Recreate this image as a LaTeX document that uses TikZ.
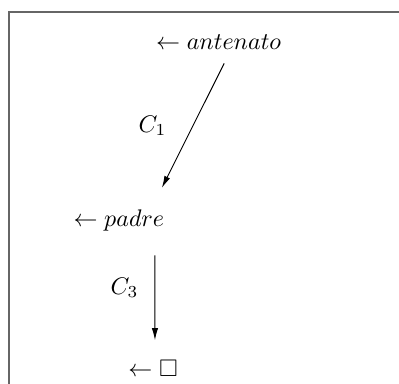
\documentclass[tikz,border=0pt]{standalone}
\usepackage{amssymb}
\usetikzlibrary{positioning, arrows.meta}

\begin{document}
\begin{tikzpicture}[
        every node/.style={font=\normalsize},
        goal/.style={anchor=base},
        frame/.style={draw=black!60, line width=0.8pt},
        arrow/.style={-{Latex[length=5pt, width=2.6pt]}}
    ]
    \useasboundingbox (0,0) rectangle (5.84,-5.61);

    % --- Frame (open at right and bottom) ---
    \draw[frame] (0.13,-5.8) -- (0.13,-0.18) -- (6.0,-0.18);

    % --- Goals ---
    \node[goal] (ant) at (3.20,-0.73) {$\leftarrow antenato$};
    \node[goal] (pad) at (1.74,-3.32) {$\leftarrow padre$};
    \node[goal] (box) at (2.24,-5.51) {$\leftarrow \square$};

    % --- Resolution steps ---
    \draw[arrow] ([shift={(2.3pt,-2.1pt)}]ant.south)
        -- node[pos=0.5, left=7.5pt] {$C_1$} ([shift={(17.9pt,5.75pt)}]pad.north);
    \draw[arrow] ([shift={(15pt,-6.4pt)}]pad.south)
        -- node[pos=0.38, left=3.3pt] {$C_3$} ([shift={(0.8pt,4.8pt)}]box.north);

\end{tikzpicture}
\end{document}
